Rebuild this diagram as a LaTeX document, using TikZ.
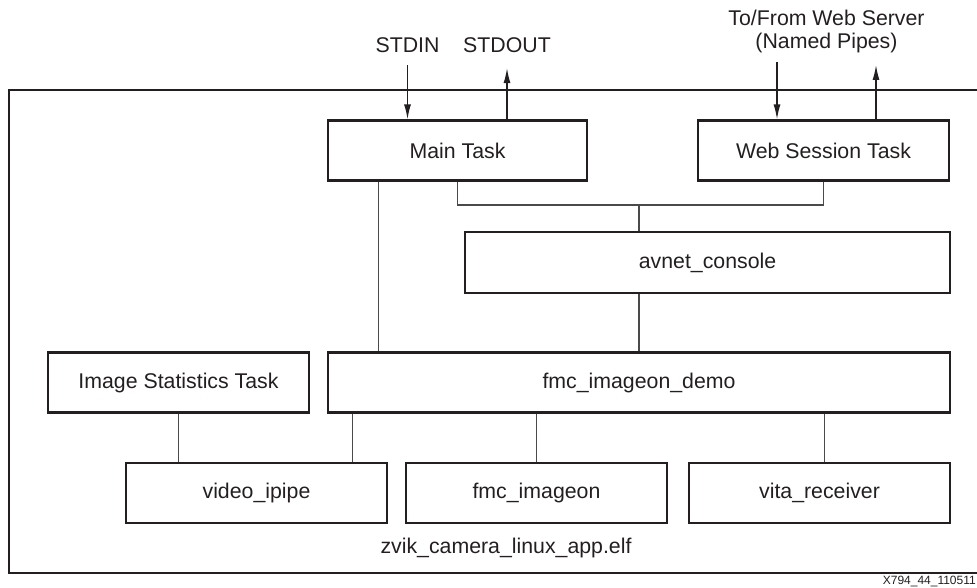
\documentclass[tikz,border=0pt]{standalone}
\usepackage{fontspec}
\setmainfont{Liberation Sans}
\usetikzlibrary{positioning, arrows.meta, calc}
\definecolor{inkdark}{HTML}{231F20}
\definecolor{inkline}{HTML}{4A4A4A}
\begin{document}
\begin{tikzpicture}[x=1pt,y=-1pt,
    font=\fontsize{21.3}{23}\selectfont, text=inkdark,
    blk/.style={draw=inkdark, line width=2.2pt, inner sep=0pt, minimum height=60pt},
    wire/.style={draw=inkline, line width=1.1pt},
    arr/.style={draw=inkdark, line width=1.4pt, -{Latex[length=15pt,width=7pt]}},
    outerbox/.style={draw=inkdark, line width=2.4pt}]
    \useasboundingbox (0,0) rectangle (977,588);
    \draw[outerbox] (9,90) rectangle (995,573);
    \node[blk, minimum width=259pt] (main)  at (457.5,150.5) {Main Task};
    \node[blk, minimum width=251pt] (web)   at (823.5,150.5) {Web Session Task};
    \node[blk, minimum width=485pt, minimum height=61pt] (avnet) at (707.5,262.5) {avnet\_console};
    \node[blk, minimum width=261pt] (stats) at (178.5,382.5) {Image Statistics Task};
    \node[blk, minimum width=622pt] (demo)  at (639,382.5) {fmc\_imageon\_demo};
    \node[blk, minimum width=261pt] (video) at (256.5,493) {video\_ipipe};
    \node[blk, minimum width=261pt] (fmc)   at (536.5,493) {fmc\_imageon};
    \node[blk, minimum width=261pt] (vita)  at (819.5,493) {vita\_receiver};
    \node (elf) at (506,548) {zvik\_camera\_linux\_app.elf};
    \node (stdin)  at (407.5,45) {STDIN};
    \node (stdout) at (507,45) {STDOUT};
    \node[align=center] (pipes) at (826.5,31) {To/From Web Server\\(Named Pipes)};
    \node[anchor=base east, inner sep=0pt, font=\fontsize{12}{14}\selectfont] (fig) at (976,584) {X794\_44\_110511};
    \draw[arr] ([yshift=-9pt]stdin.south) -- (stdin.south |- main.north);
    \draw[arr] (stdout.south |- main.north) -- ([yshift=-12pt]stdout.south);
    \draw[arr] ([xshift=-49.5pt]pipes.south |- 0,62) -- ([xshift=-49.5pt]pipes.south |- web.north);
    \draw[arr] ([xshift=49.5pt]pipes.south |- web.north) -- ([xshift=49.5pt]pipes.south |- 0,65);
    \coordinate (join) at (demo.north |- 0,205);
    \draw[wire] (main.south) |- (join) -| (web.south);
    \draw[wire] (join) -- (avnet.north -| join);
    \draw[wire] (avnet.south -| demo.north) -- (demo.north);
    \draw[wire] ([xshift=52pt]main.south west) -- ([xshift=52pt]main.south west |- demo.north);
    \draw[wire] (stats.south) -- (stats.south |- video.north);
    \draw[wire] ([xshift=26pt]demo.south west) -- ([xshift=26pt]demo.south west |- video.north);
    \draw[wire] (fmc.north) -- (fmc.north |- demo.south);
    \draw[wire] ([xshift=5pt]vita.north) -- ([xshift=5pt]vita.north |- demo.south);
\end{tikzpicture}
\end{document}
